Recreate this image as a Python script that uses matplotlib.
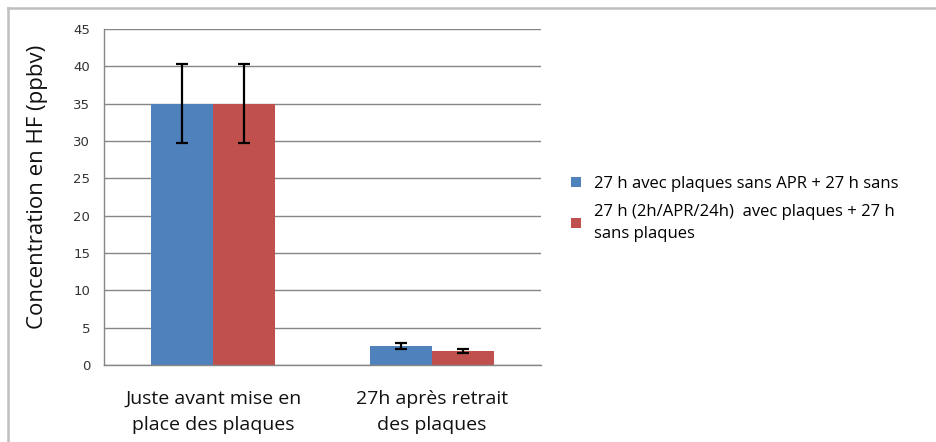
import matplotlib
matplotlib.use("Agg")
import matplotlib.pyplot as plt
import numpy as np
from matplotlib.lines import Line2D
from matplotlib.patches import Patch

categories = ["Juste avant mise en\nplace des plaques", "27h après retrait\ndes plaques"]
series_names = ["27 h avec plaques sans APR + 27 h sans",
                "27 h (2h/APR/24h)  avec plaques + 27 h\nsans plaques"]
series_values = [[35.0, 2.55], [35.0, 1.9]]
series_errors = [[5.3, 0.45], [5.3, 0.25]]
series_colors = ["#4F81BD", "#C0504D"]
y_ticks = [0, 5, 10, 15, 20, 25, 30, 35, 40, 45]

W, H = 937, 442
fig = plt.figure(figsize=(W / 100, H / 100), dpi=100)
ax = fig.add_axes([104 / W, 1 - 365 / H, 437 / W, 336 / H])

x = np.arange(len(categories))
bw = 0.284
for i, (vals, errs, col) in enumerate(zip(series_values, series_errors, series_colors)):
    offs = (i - 0.5) * bw
    ax.bar(x + offs, vals, width=bw, color=col, zorder=2)
    ax.errorbar(x + offs, vals, yerr=errs, fmt="none", ecolor="black",
                elinewidth=1.6, capsize=4, capthick=1.6, zorder=3)

ax.set_xlim(-0.5, 1.5)
ax.set_ylim(0, 45)
ax.set_yticks(y_ticks)
ax.set_yticklabels([str(t) for t in y_ticks], fontsize=9.5, color="#333333",
                   family="DejaVu Sans")
ax.tick_params(axis="y", length=0, pad=10)
ax.set_xticks(x)
ax.set_xticklabels(categories, fontsize=14, family="Open Sans", color="#111111",
                   linespacing=1.55)
ax.tick_params(axis="x", length=0, pad=18)
ax.yaxis.grid(True, color="#868686", linewidth=1.0, zorder=0)
ax.set_axisbelow(True)
for s in ["top", "right"]:
    ax.spines[s].set_visible(False)
for s in ["left", "bottom"]:
    ax.spines[s].set_color("#868686")
    ax.spines[s].set_linewidth(1.0)

ax.set_ylabel("Concentration en HF (ppbv)", fontsize=16, family="Open Sans",
              color="#111111")
ax.yaxis.set_label_coords(-0.128, 0.53)

handles = [Patch(facecolor=c, edgecolor="none") for c in series_colors]
leg = fig.legend(handles, series_names, loc="upper left",
                 bbox_to_anchor=(556 / W, 1 - 161 / H), frameon=False,
                 prop={"family": "Open Sans", "size": 12},
                 handlelength=0.6, handleheight=0.6, handletextpad=0.8,
                 labelspacing=0.72, alignment="left")
for t in leg.get_texts():
    t.set_linespacing(1.5)

# chart frame
fig.add_artist(Line2D([8.5 / W, 1.0], [1 - 7.5 / H] * 2, color="#BFBFBF", lw=1.8,
                      transform=fig.transFigure))
fig.add_artist(Line2D([8.5 / W] * 2, [0.0, 1 - 7.5 / H], color="#BFBFBF", lw=1.8,
                      transform=fig.transFigure))

fig.savefig("out.png", dpi=100)
